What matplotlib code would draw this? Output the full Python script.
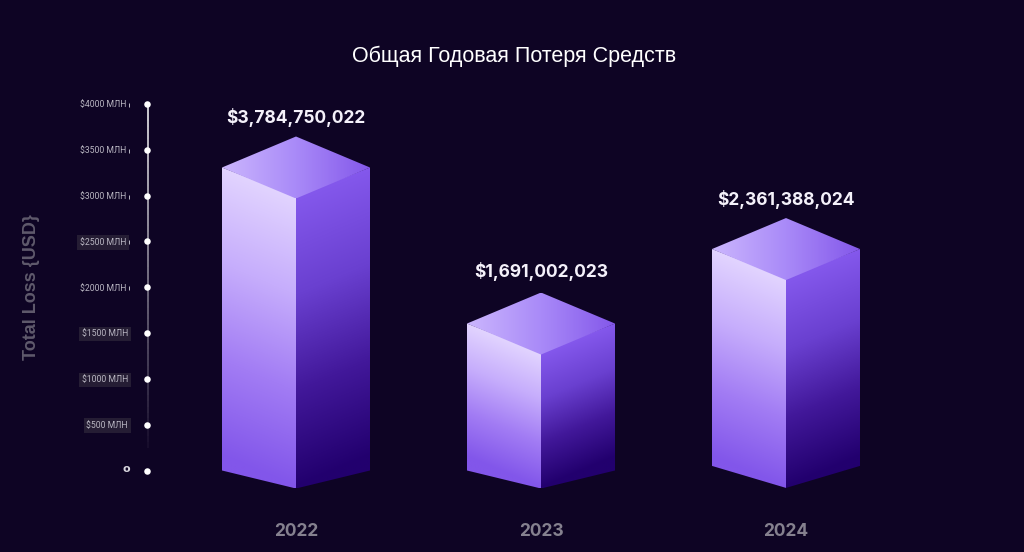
"""Total annual loss: isometric gradient bars on a dark background."""
import numpy as np
import matplotlib
matplotlib.use("Agg")
import matplotlib.pyplot as plt
from matplotlib.collections import LineCollection
from matplotlib.colors import LinearSegmentedColormap
from matplotlib.patches import Polygon

years = ["2022", "2023", "2024"]
totals = [3784750022, 1691002023, 2361388024]
# bar edges as read against the y axis scale (the picture is not to scale)
edge_top = [3307, 1604, 2417]
edge_base = [0, 0, 50]
tick_values = [0, 500, 1000, 1500, 2000, 2500, 3000, 3500, 4000]
tick_labels = ["o", "$500 МЛН", "$1000 МЛН", "$1500 МЛН", "$2000 МЛН",
               "$2500 МЛН", "$3000 МЛН", "$3500 МЛН", "$4000 МЛН"]
shaded_ticks = [500, 1000, 1500, 2500]
marked_ticks = [2000, 2500, 3000, 3500, 4000]

BG = "#0e0424"
PX = 366.5 / 4000  # pixels per unit on y
centers = [296, 541, 786]
label_gap = [19, 21, 19]
HALF_W = 74

LEFT = LinearSegmentedColormap.from_list("l", ["#e2d4ff", "#c6adfc", "#a27cf4", "#8256ea"])
RIGHT = LinearSegmentedColormap.from_list("r", ["#8458ec", "#6a40d0", "#42189a", "#22006e"])
TOP = LinearSegmentedColormap.from_list("t", ["#cbb6fd", "#a98af8", "#8458ea"])

fig = plt.figure(figsize=(10.24, 5.52), dpi=100, facecolor=BG)
ax = fig.add_axes([0, 0, 1, 1], facecolor=BG)
ax.set_xlim(0, 1024)
ax.set_ylim(-(552 - 470.5) / PX, 470.5 / PX)
ax.axis("off")


def face(points, cmap, side=None):
    """Gradient polygon: imshow clipped to the face outline."""
    pts = np.array(points, float)
    x0, x1 = pts[:, 0].min(), pts[:, 0].max()
    y0, y1 = pts[:, 1].min(), pts[:, 1].max()
    xx, yy = np.meshgrid(np.linspace(0, 1, 120), np.linspace(0, 1, 300))
    k = 31 / ((y1 - y0) * PX)
    # side faces: bands run parallel to the slanted top edge
    if side == "left":
        grad = (yy - xx * k) / (1 - k)
    elif side == "right":
        grad = (yy + (xx - 1) * k) / (1 - k)
    else:
        grad = xx
    im = ax.imshow(np.clip(grad, 0, 1), cmap=cmap, vmin=0, vmax=1, extent=(x0, x1, y0, y1),
                   aspect="auto", interpolation="bilinear", zorder=2)
    im.set_clip_path(Polygon(pts, closed=True, transform=ax.transData))


for cx, top, base, total, year, gap in zip(centers, edge_top, edge_base, totals, years, label_gap):
    drop = 31 / PX   # top rhombus half height
    foot = (18 if base == 0 else 22) / PX
    over = 2 / PX    # sides run a little under the top face, hides the seam
    l, r = cx - HALF_W, cx + HALF_W
    face([(l, top), (cx, top - drop + over), (cx, base - foot), (l, base)], LEFT, side="left")
    face([(cx, top - drop + over), (r, top), (r, base), (cx, base - foot)], RIGHT, side="right")
    face([(l, top), (cx, top + drop), (r, top), (cx, top - drop)], TOP)
    ax.text(cx, top + drop + gap / PX, f"${total:,}", color="#f4f1fa", fontsize=12.5,
            fontweight="bold", family="Inter", ha="center", va="center", zorder=3)
    ax.text(cx, -(531.5 - 470.5) / PX, year, color="#85818f", fontsize=12.5,
            fontweight="bold", family="Inter", ha="center", va="center", zorder=3)

# axis line fades out towards zero
levels = np.linspace(250, 4000, 60)
segs = [[(147.5, a), (147.5, b)] for a, b in zip(levels[:-1], levels[1:])]
fade = [(1, 1, 1, min(1, (a - 250) / 3750 + 0.05)) for a in levels[:-1]]
ax.add_collection(LineCollection(segs, colors=fade, linewidths=1.1, zorder=2))
ax.scatter([147] * len(tick_values), tick_values, s=22, color="white", linewidths=0, zorder=3)

for v, label in zip(tick_values, tick_labels):
    if v == 0:
        ax.text(126.5, v + 1 / PX, label, color="#d8d6de", fontsize=8, fontweight="bold",
                ha="center", va="center", family="DejaVu Sans")
        continue
    box = dict(facecolor="#251d34", edgecolor="none", pad=2) if v in shaded_ticks else None
    x = 126.5 if v in marked_ticks else 128
    ax.text(x, v - 1 / PX, label, color="#b9b6c2", fontsize=6.2, ha="right", va="center",
            family="Roboto", bbox=box, zorder=3)
ax.vlines([128.5] * len(marked_ticks), [v - 3 / PX for v in marked_ticks],
          [v + 1 / PX for v in marked_ticks], color="#b9b6c2", linewidth=0.7, zorder=4)

ax.text(32, (470.5 - 287) / PX, "Total Loss {USD}", color="#5f5a6c", fontsize=13,
        fontweight="bold", family="Liberation Sans", rotation=90, ha="center", va="center")
ax.text(514.5, (470.5 - 56) / PX, "Общая Годовая Потеря Средств", color="white", fontsize=15.5,
        family="Liberation Sans", ha="center", va="center")

ax.set_xlim(0, 1024)
ax.set_ylim(-(552 - 470.5) / PX, 470.5 / PX)
fig.savefig("out.png", dpi=100, facecolor=BG)
